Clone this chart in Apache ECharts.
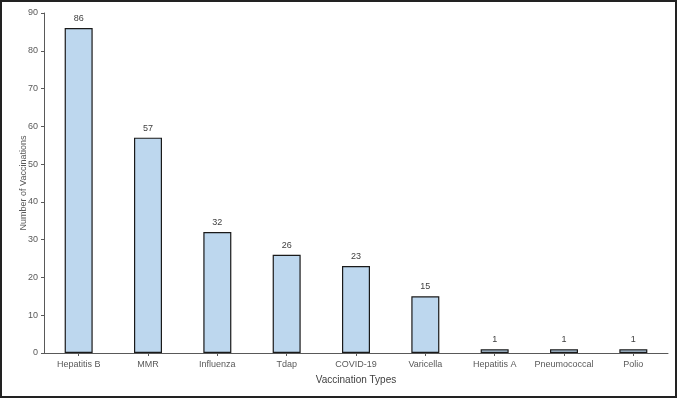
<!DOCTYPE html>
<html>
<head>
<meta charset="utf-8">
<script src="https://cdn.jsdelivr.net/npm/echarts@6/dist/echarts.min.js"></script>
<style>
  html, body { margin: 0; padding: 0; background: #fff; }
  #chart { width: 677px; height: 398px; box-sizing: border-box; border: 2px solid #222; }
</style>
</head>
<body>
<div id="chart"></div>
<script>
"use strict";

const categories = ["Hepatitis B", "MMR", "Influenza", "Tdap", "COVID-19", "Varicella", "Hepatitis A", "Pneumococcal", "Polio"];
const counts     = [86, 57, 32, 26, 23, 15, 1, 1, 1];
const yTicks     = { min: 0, max: 90, interval: 10 };

const chart = echarts.init(document.getElementById("chart"));
const FONT = "Liberation Sans";
const AXIS_GRAY = "#595959";

chart.setOption({
  backgroundColor: "#fff",
  animation: false,
  grid: { left: 42, right: 7, top: 11, bottom: 43 },
  xAxis: {
    type: "category",
    data: categories,
    name: "Vaccination Types",
    nameLocation: "middle",
    nameGap: 22,
    nameMoveOverlap: false,
    nameTextStyle: { fontFamily: FONT, fontSize: 10, color: "#404040" },
    axisLine: { lineStyle: { color: AXIS_GRAY, width: 1 } },
    axisTick: { show: true, alignWithLabel: true, length: 3, lineStyle: { color: AXIS_GRAY } },
    axisLabel: { interval: 0, fontFamily: FONT, fontSize: 9, color: "#595959", margin: 7 }
  },
  yAxis: {
    type: "value",
    min: yTicks.min, max: yTicks.max, interval: yTicks.interval,
    name: "Number of Vaccinations",
    nameLocation: "middle",
    nameGap: 16,
    nameMoveOverlap: false,
    nameTextStyle: { fontFamily: FONT, fontSize: 9, color: "#595959" },
    axisLine: { show: true, lineStyle: { color: AXIS_GRAY, width: 1 } },
    axisTick: { show: true, length: 3, lineStyle: { color: AXIS_GRAY } },
    axisLabel: { fontFamily: FONT, fontSize: 9, color: "#595959", margin: 6 },
    splitLine: { show: false }
  },
  series: [{
    type: "bar",
    data: counts,
    barWidth: 28,
    itemStyle: { color: "#BDD7EE", borderColor: "#1a1a1a", borderWidth: 1.2 },
    label: { show: true, position: "top", distance: 5, fontFamily: FONT, fontSize: 9, color: "#404040" }
  }]
});
</script>
</body>
</html>
